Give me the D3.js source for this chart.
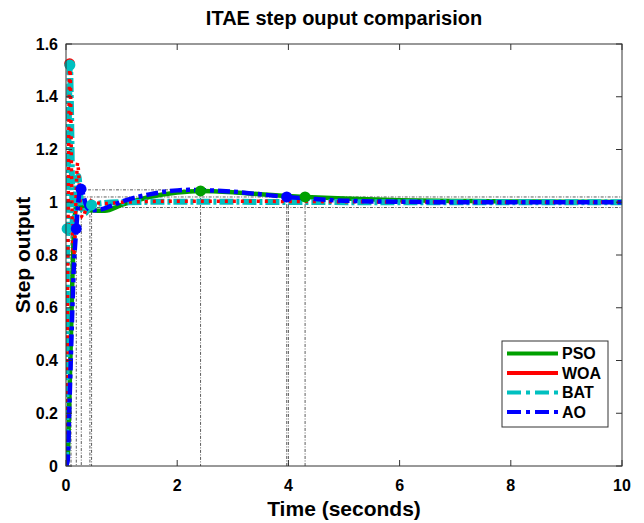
<!DOCTYPE html>
<html>
<head>
<meta charset="utf-8">
<script src="https://cdn.jsdelivr.net/npm/d3@7"></script>
<style>
  body { margin: 0; background: #fff; }
  svg { display: block; font-family: "Liberation Sans", Arial, sans-serif; }
</style>
</head>
<body>
<div id="chart"></div>
<script>
// step responses: [time, output]
const psoData = [
  [0, 0], [0.03, 0.03], [0.06, 0.25], [0.09, 0.5], [0.12, 0.75], [0.15, 0.92], [0.2, 1.0],
  [0.3, 0.98], [0.45, 0.97], [0.7, 0.968], [1.0, 0.99], [1.5, 1.02], [2.0, 1.037], [2.4, 1.043],
  [3.0, 1.038], [3.5, 1.03], [4.3, 1.02], [5, 1.014], [6, 1.008], [7, 1.005], [8, 1.003], [9, 1.002], [10, 1.001]
];
const woaData = [
  [0, 0], [0.02, 0.4], [0.04, 1.0], [0.06, 1.45], [0.07, 1.52], [0.08, 1.45], [0.1, 1.1],
  [0.12, 0.85], [0.14, 0.8], [0.17, 0.95], [0.2, 1.13], [0.21, 1.15], [0.23, 1.1], [0.26, 0.98],
  [0.3, 0.94], [0.35, 0.97], [0.4, 1.01], [0.5, 1.0], [0.7, 0.995], [1, 1.0], [2, 1.004],
  [3, 1.004], [4, 1.003], [5, 1.002], [6, 1.001], [8, 1.0], [10, 1.0]
];
const batData = [
  [0, 0], [0.01, 0.35], [0.02, 0.9], [0.05, 1.3], [0.07, 1.52], [0.09, 1.35], [0.11, 1.05],
  [0.13, 0.88], [0.16, 0.95], [0.19, 1.08], [0.22, 1.1], [0.26, 1.02], [0.3, 0.97], [0.35, 0.96],
  [0.4, 0.975], [0.46, 0.99], [0.6, 0.995], [1, 1.0], [2, 1.002], [4, 1.001], [6, 1.0], [10, 1.0]
];
const aoData = [
  [0, 0], [0.03, 0.02], [0.06, 0.22], [0.1, 0.5], [0.14, 0.75], [0.185, 0.9], [0.22, 1.0],
  [0.27, 1.05], [0.32, 1.02], [0.38, 0.98], [0.45, 0.97], [0.6, 0.972], [0.8, 0.985], [1.0, 1.002],
  [1.5, 1.03], [2.0, 1.045], [2.2, 1.047], [2.6, 1.045], [3.0, 1.04], [3.5, 1.03], [3.97, 1.02],
  [4.5, 1.012], [5, 1.006], [6, 1.002], [7, 1.0], [8, 1.0], [9, 1.0], [10, 1.0]
];

// characteristic markers
const psoMarks = [[2.42, 1.043], [4.3, 1.02]];
const woaMarks = [[0.065, 1.525]];
const batMarks = [[0.07, 1.52], [0.02, 0.9], [0.46, 0.99]];
const aoMarks = [[0.27, 1.05], [0.185, 0.9], [3.97, 1.02]];

// dash-dot guide lines
const vGuides = [[0.09, 0.9], [0.185, 0.9], [0.275, 1.05], [0.43, 0.98], [0.46, 0.99], [2.42, 1.043], [3.97, 1.02], [4.0, 1.02], [4.3, 1.02]];
const hGuides = [[0.27, 2.42, 1.047], [0.3, 10, 1.02], [0.43, 10, 0.98]];

const xTicks = [0, 2, 4, 6, 8, 10];
const yTicks = [0, 0.2, 0.4, 0.6, 0.8, 1, 1.2, 1.4, 1.6];

const series = [
  { name: "PSO", data: psoData, marks: psoMarks, color: "#00a000", width: 4.5, dash: null, legendDash: null },
  { name: "BAT", data: batData, marks: batMarks, color: "#00c0c0", width: 6, dash: "14,3,3,3", legendDash: "14,5,4,5" },
  { name: "WOA", data: woaData, marks: woaMarks, color: "#ff0000", width: 3.5, dash: "3,5", legendDash: null },
  { name: "AO", data: aoData, marks: aoMarks, color: "#0000ff", width: 4.5, dash: "12,4,4,4", legendDash: "14,5,4,5" },
];
const legendOrder = ["PSO", "WOA", "BAT", "AO"];

const W = 644, H = 523;
const m = { left: 66, right: 22, top: 44, bottom: 57 };

const svg = d3.select("#chart").append("svg").attr("width", W).attr("height", H);

const x = d3.scaleLinear().domain([0, 10]).range([m.left, W - m.right]);
const y = d3.scaleLinear().domain([0, 1.6]).range([H - m.bottom, m.top]);

const plot = svg.append("g");
plot.append("clipPath").attr("id", "clip")
  .append("rect").attr("x", m.left).attr("y", m.top)
  .attr("width", x(10) - m.left).attr("height", y(0) - m.top);

// guides
const guides = plot.append("g").attr("stroke", "#333").attr("stroke-width", 0.8)
  .attr("stroke-dasharray", "3,1.5,1,1.5").attr("fill", "none");
guides.selectAll("line.v").data(vGuides).join("line").attr("class", "v")
  .attr("x1", (d) => x(d[0])).attr("x2", (d) => x(d[0]))
  .attr("y1", (d) => y(d[1])).attr("y2", y(0));
guides.selectAll("line.h").data(hGuides).join("line").attr("class", "h")
  .attr("x1", (d) => x(d[0])).attr("x2", (d) => x(d[1]))
  .attr("y1", (d) => y(d[2])).attr("y2", (d) => y(d[2]));

const line = d3.line().x((d) => x(d[0])).y((d) => y(d[1])).curve(d3.curveMonotoneX);

const curves = plot.append("g").attr("clip-path", "url(#clip)");
for (const s of series) {
  curves.append("path").datum(s.data)
    .attr("d", line).attr("fill", "none")
    .attr("stroke", s.color).attr("stroke-width", s.width)
    .attr("stroke-dasharray", s.dash)
    .attr("stroke-linejoin", "round");
}
const dots = plot.append("g");
for (const name of ["WOA", "PSO", "BAT", "AO"]) {
  const s = series.find((d) => d.name === name);
  dots.selectAll(null).data(s.marks).join("circle")
    .attr("cx", (d) => x(d[0])).attr("cy", (d) => y(d[1]))
    .attr("r", 5.5).attr("fill", s.color);
}

// frame and ticks
const axisColor = "#333";
svg.append("rect").attr("x", m.left).attr("y", m.top)
  .attr("width", x(10) - m.left).attr("height", y(0) - m.top)
  .attr("fill", "none").attr("stroke", axisColor).attr("stroke-width", 1);

const tickLen = 6;
const tk = svg.append("g").attr("stroke", axisColor).attr("stroke-width", 1);
tk.selectAll("line.xb").data(xTicks).join("line").attr("class", "xb")
  .attr("x1", (d) => x(d)).attr("x2", (d) => x(d)).attr("y1", y(0)).attr("y2", y(0) - tickLen);
tk.selectAll("line.xt").data(xTicks).join("line").attr("class", "xt")
  .attr("x1", (d) => x(d)).attr("x2", (d) => x(d)).attr("y1", y(1.6)).attr("y2", y(1.6) + tickLen);
tk.selectAll("line.yl").data(yTicks).join("line").attr("class", "yl")
  .attr("y1", (d) => y(d)).attr("y2", (d) => y(d)).attr("x1", x(0)).attr("x2", x(0) + tickLen);
tk.selectAll("line.yr").data(yTicks).join("line").attr("class", "yr")
  .attr("y1", (d) => y(d)).attr("y2", (d) => y(d)).attr("x1", x(10)).attr("x2", x(10) - tickLen);

const fmt = d3.format("~g");
svg.append("g").selectAll("text").data(xTicks).join("text")
  .attr("x", (d) => x(d)).attr("y", y(0) + 25)
  .attr("text-anchor", "middle").attr("font-size", 16).attr("font-weight", "bold")
  .text(fmt);
svg.append("g").selectAll("text").data(yTicks).join("text")
  .attr("x", x(0) - 8).attr("y", (d) => y(d) + 5.5)
  .attr("text-anchor", "end").attr("font-size", 16).attr("font-weight", "bold")
  .text(fmt);

svg.append("text").attr("x", (x(0) + x(10)) / 2).attr("y", 25)
  .attr("text-anchor", "middle").attr("font-size", 20).attr("font-weight", "bold")
  .text("ITAE step ouput comparision");
svg.append("text").attr("x", (x(0) + x(10)) / 2).attr("y", 516)
  .attr("text-anchor", "middle").attr("font-size", 21).attr("font-weight", "bold")
  .text("Time (seconds)");
svg.append("text").attr("transform", `translate(30,${(y(0) + y(1.6)) / 2}) rotate(-90)`)
  .attr("text-anchor", "middle").attr("font-size", 21).attr("font-weight", "bold")
  .text("Step output");

// legend
const lg = svg.append("g").attr("transform", "translate(502,341)");
lg.append("rect").attr("width", 106).attr("height", 86)
  .attr("fill", "#fff").attr("stroke", axisColor).attr("stroke-width", 1);
legendOrder.forEach((name, i) => {
  const s = series.find((d) => d.name === name);
  const cy = 12.5 + i * 19.5;
  lg.append("line").attr("x1", 5).attr("x2", 56).attr("y1", cy).attr("y2", cy)
    .attr("stroke", s.color).attr("stroke-width", 4).attr("stroke-dasharray", s.legendDash);
  lg.append("text").attr("x", 60).attr("y", cy + 5.5)
    .attr("font-size", 16).attr("font-weight", "bold").text(name);
});
</script>
</body>
</html>
